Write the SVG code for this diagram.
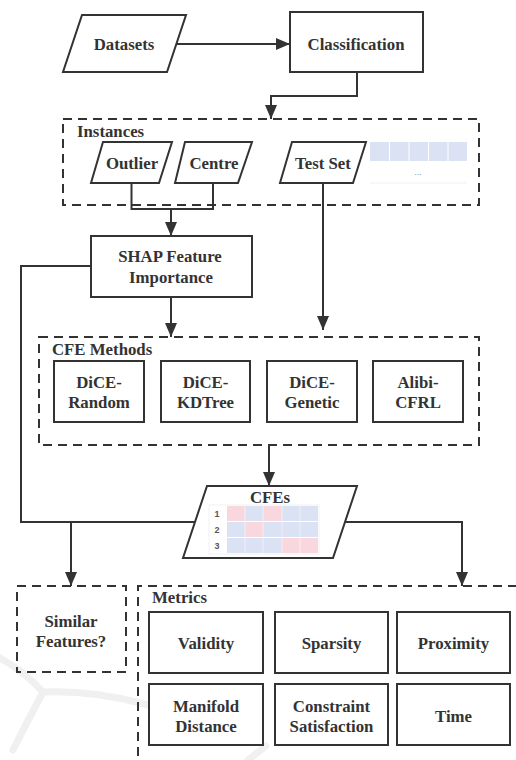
<svg xmlns="http://www.w3.org/2000/svg" width="516" height="760" viewBox="0 0 516 760">
<defs>
<style>
.n{fill:#fff;stroke:#333;stroke-width:2}
.d{fill:none;stroke:#333;stroke-width:2;stroke-dasharray:9 6}
.c{fill:none;stroke:#333;stroke-width:2}
.t{font-family:'Liberation Serif','DejaVu Serif',serif;font-weight:700;font-size:16.8px;fill:#333;text-anchor:middle}
.l{font-family:'Liberation Serif','DejaVu Serif',serif;font-weight:700;font-size:16.8px;fill:#333}
.num{font-family:'Liberation Sans',sans-serif;font-weight:700;font-size:9px;fill:#555;text-anchor:middle}
.b{fill:#dae2f4}
.p{fill:#f8d7df}
.w{fill:none;stroke:#f0f0f0;stroke-width:7;stroke-linecap:round}
</style>
<marker id="ah" markerUnits="userSpaceOnUse" markerWidth="15" markerHeight="12" refX="14" refY="6" orient="auto">
<path d="M0,0 L14,6 L0,12 z" fill="#333"/>
</marker>
</defs>
<rect width="516" height="760" fill="#fff"/>
<g id="watermark">
<path class="w" d="M0,658 Q25,672 43,692"/>
<path class="w" d="M43,692 Q90,690 140,703 Q200,718 250,740"/>
<path class="w" d="M43,692 Q28,720 13,750"/>
<path class="w" d="M248,760 L266,746"/>
</g>
<g id="instances">
<rect class="d" x="63" y="119" width="416" height="86"/>
<text class="l" x="77" y="137" font-family="Liberation Serif, serif">Instances</text>
<g id="inst-table">
<rect class="b" x="370" y="142" width="97" height="19"/>
<path d="M389.5,142V161M409,142V161M428.5,142V161M448,142V161" stroke="#fff" stroke-width="1"/>
<text x="418" y="175" font-family="Liberation Sans, sans-serif" font-size="9" fill="#999" text-anchor="middle">...</text>
<path d="M370,183H467" stroke="#f0f0f0" stroke-width="1"/>
</g>
</g>
<g id="cfe-methods">
<rect class="d" x="39" y="337" width="440" height="108"/>
<text class="l" x="52" y="355">CFE Methods</text>
</g>
<g id="metrics">
<path class="d" d="M138,756V586H520"/>
<text class="l" x="152" y="603">Metrics</text>
</g>
<g id="connectors">
<path class="c" d="M176,44H290" marker-end="url(#ah)"/>
<path class="c" d="M357,72V96H271V119" marker-end="url(#ah)"/>
<path class="c" d="M131.5,183V209H213V183"/>
<path class="c" d="M171,209V236" marker-end="url(#ah)"/>
<path class="c" d="M323,183V330" marker-end="url(#ah)"/>
<path class="c" d="M171,297V337" marker-end="url(#ah)"/>
<path class="c" d="M269,445V486" marker-end="url(#ah)"/>
<path class="c" d="M91,266H21V522H195"/>
<path class="c" d="M71,522V586" marker-end="url(#ah)"/>
<path class="c" d="M345,522H462V586" marker-end="url(#ah)"/>
</g>
<g id="datasets">
<polygon class="n" points="82,15 186,15 167,72 63,72"/>
<text class="t" x="124" y="50">Datasets</text>
</g>
<g id="classification">
<rect class="n" x="290" y="12" width="133" height="60"/>
<text class="t" x="356" y="50">Classification</text>
</g>
<g id="outlier">
<polygon class="n" points="103,142 172,142 159,183 91,183"/>
<text class="t" x="132" y="169">Outlier</text>
</g>
<g id="centre">
<polygon class="n" points="185,142 252,142 238,183 175,183"/>
<text class="t" x="214" y="169">Centre</text>
</g>
<g id="testset">
<polygon class="n" points="292,142 366,142 353,183 280,183"/>
<text class="t" x="323" y="169">Test Set</text>
</g>
<g id="shap">
<rect class="n" x="91" y="236" width="161" height="61"/>
<text class="t" x="170" y="262">SHAP Feature</text>
<text class="t" x="171" y="283">Importance</text>
</g>
<g id="dice-random">
<rect class="n" x="54" y="361" width="90" height="61"/>
<text class="t" x="99" y="388">DiCE-</text>
<text class="t" x="99" y="408">Random</text>
</g>
<g id="dice-kdtree">
<rect class="n" x="161" y="361" width="89" height="61"/>
<text class="t" x="205.5" y="388">DiCE-</text>
<text class="t" x="205.5" y="408">KDTree</text>
</g>
<g id="dice-genetic">
<rect class="n" x="267" y="361" width="90" height="61"/>
<text class="t" x="312" y="388">DiCE-</text>
<text class="t" x="312" y="408">Genetic</text>
</g>
<g id="alibi-cfrl">
<rect class="n" x="373" y="361" width="90" height="61"/>
<text class="t" x="418" y="388">Alibi-</text>
<text class="t" x="418" y="408">CFRL</text>
</g>
<g id="cfes">
<polygon class="n" points="207,486 357,486 333,558 183,558"/>
<text class="t" x="270" y="503">CFEs</text>
<g id="cfe-table">
<rect x="209" y="505" width="110" height="49" fill="#fff" stroke="#f2f2f2" stroke-width="1"/>
<rect class="p" x="227" y="506" width="18" height="15"/>
<rect class="b" x="245" y="506" width="18" height="15"/>
<rect class="p" x="263" y="506" width="19" height="15"/>
<rect class="b" x="282" y="506" width="36" height="15"/>
<rect class="b" x="227" y="522" width="18" height="15"/>
<rect class="p" x="245" y="522" width="18" height="15"/>
<rect class="b" x="263" y="522" width="55" height="15"/>
<rect class="b" x="227" y="538" width="55" height="15"/>
<rect class="p" x="282" y="538" width="36" height="15"/>
<path d="M245,506V553M263,506V553M282,506V553M300,506V553" stroke="#fff" stroke-width="0.8" opacity="0.7"/>
<text class="num" x="217" y="517">1</text>
<text class="num" x="217" y="533">2</text>
<text class="num" x="217" y="548.5">3</text>
</g>
</g>
<g id="similar">
<rect class="d" x="17" y="586" width="109" height="86"/>
<text class="t" x="71" y="627">Similar</text>
<text class="t" x="71" y="647">Features?</text>
</g>
<g id="validity">
<rect class="n" x="149" y="612" width="114" height="61"/>
<text class="t" x="206" y="649">Validity</text>
</g>
<g id="sparsity">
<rect class="n" x="275" y="612" width="113" height="61"/>
<text class="t" x="331.5" y="649">Sparsity</text>
</g>
<g id="proximity">
<rect class="n" x="397" y="612" width="113" height="61"/>
<text class="t" x="453.5" y="649">Proximity</text>
</g>
<g id="manifold">
<rect class="n" x="149" y="684" width="114" height="61"/>
<text class="t" x="206" y="712">Manifold</text>
<text class="t" x="206" y="732">Distance</text>
</g>
<g id="constraint">
<rect class="n" x="275" y="684" width="113" height="61"/>
<text class="t" x="331.5" y="712">Constraint</text>
<text class="t" x="331.5" y="732">Satisfaction</text>
</g>
<g id="time">
<rect class="n" x="397" y="684" width="113" height="61"/>
<text class="t" x="453.5" y="722">Time</text>
</g>
</svg>
